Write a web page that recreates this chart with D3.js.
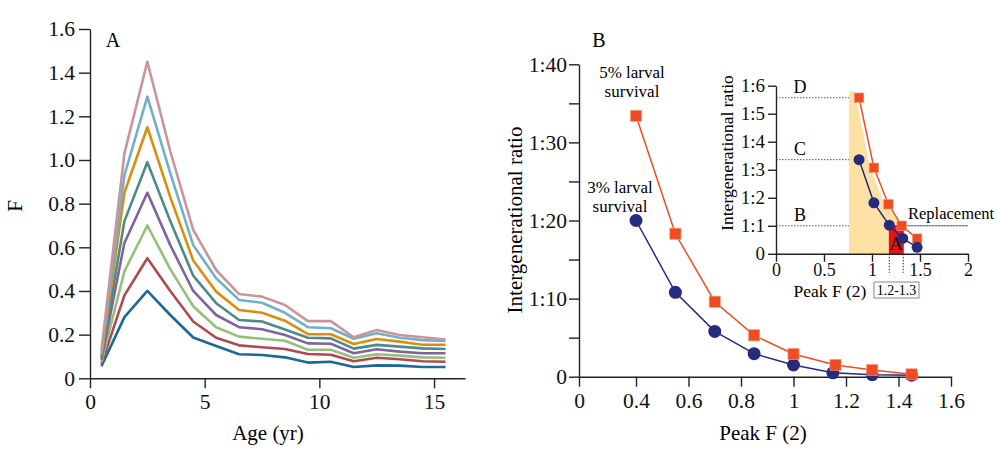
<!DOCTYPE html>
<html>
<head>
<meta charset="utf-8">
<script src="https://cdn.jsdelivr.net/npm/d3@7"></script>
<style>
    body { margin: 0; background: #fff; }
    svg { display: block; font-family: "Liberation Serif", "DejaVu Serif", serif; }
    .axis path, .axis line { stroke: #222; stroke-width: 1.4; }
    .axis text { font-family: "Liberation Serif", serif; fill: #111; }
</style>
</head>
<body>
<div class="graphContainer"></div>
<script>
// Panel A: fecundity by age, one line per peak F
const ages = [0.5, 1.5, 2.5, 3.5, 4.5, 5.5, 6.5, 7.5, 8.5, 9.5, 10.5, 11.5, 12.5, 13.5, 14.5, 15.5];
const fBlue = [0.055, 0.28, 0.40, 0.29, 0.187, 0.148, 0.110, 0.107, 0.096, 0.072, 0.076, 0.052, 0.059, 0.058, 0.052, 0.052];
const fRed = [0.065, 0.38, 0.55, 0.40, 0.26, 0.186, 0.151, 0.142, 0.134, 0.111, 0.108, 0.078, 0.094, 0.087, 0.078, 0.076];
const fGreen = [0.075, 0.49, 0.70, 0.50, 0.33, 0.234, 0.191, 0.181, 0.172, 0.131, 0.131, 0.094, 0.110, 0.104, 0.096, 0.094];
const fPurple = [0.085, 0.62, 0.85, 0.61, 0.40, 0.29, 0.234, 0.225, 0.198, 0.160, 0.158, 0.115, 0.133, 0.122, 0.115, 0.115];
const fTeal = [0.095, 0.72, 0.99, 0.72, 0.47, 0.344, 0.267, 0.26, 0.224, 0.186, 0.183, 0.136, 0.153, 0.145, 0.137, 0.134];
const fOrange = [0.105, 0.85, 1.15, 0.83, 0.54, 0.397, 0.313, 0.30, 0.264, 0.202, 0.202, 0.157, 0.180, 0.168, 0.154, 0.154];
const fLightBlue = [0.115, 0.93, 1.29, 0.94, 0.61, 0.458, 0.359, 0.346, 0.30, 0.234, 0.229, 0.181, 0.206, 0.186, 0.175, 0.171];
const fPink = [0.13, 1.03, 1.45, 1.04, 0.68, 0.496, 0.386, 0.374, 0.336, 0.262, 0.262, 0.188, 0.221, 0.198, 0.188, 0.178];
const ageTicks = [0, 5, 10, 15];
const fTicks = [0, 0.2, 0.4, 0.6, 0.8, 1.0, 1.2, 1.4, 1.6];

// Panel B: intergenerational ratio vs peak F
const peakF3 = [0.4, 0.55, 0.7, 0.85, 1.0, 1.15, 1.3, 1.45];
const ratio3 = [20, 10.8, 5.8, 2.95, 1.5, 0.5, 0.26, 0.2];
const peakF5 = [0.4, 0.55, 0.7, 0.85, 1.0, 1.16, 1.3, 1.45];
const ratio5 = [33.4, 18.3, 9.6, 5.3, 2.9, 1.5, 0.86, 0.3];
const peakTicks = [0, 0.4, 0.6, 0.8, 1, 1.2, 1.4, 1.6];
const ratioTicks = [0, 5, 10, 15, 20, 25, 30, 35, 40];

// Inset
const insetF3 = [0.865, 1.02, 1.18, 1.32, 1.47];
const insetR3 = [3.36, 1.82, 1.02, 0.55, 0.23];
const insetF5 = [0.865, 1.02, 1.17, 1.31, 1.47];
const insetR5 = [5.57, 3.07, 1.77, 1.0, 0.54];
const insetXTicks = [0, 0.5, 1, 1.5, 2];
const insetYTicks = [0, 1, 2, 3, 4, 5, 6];
const shadeX = [0.76, 0.76, 0.82, 0.98, 1.13, 1.325, 1.325];
const shadeY = [0, 5.8, 5.8, 3.07, 1.77, 1.0, 0];
const replacementRange = [1.18, 1.325];
const replacementRatio = 1.0;
const levelLabels = ["D", "C", "B"];
const levelValues = [5.57, 3.36, 1.0];

const svg = d3.select(".graphContainer")
    .append("svg")
    .attr("width", 998)
    .attr("height", 459);

// ---------- Panel A ----------
const xA = d3.scaleLinear().domain([0, 16.35]).range([90, 465]);
const yA = d3.scaleLinear().domain([0, 1.6]).range([378.3, 29]);

svg.append("g")
    .attr("class", "axis")
    .attr("transform", "translate(0," + yA(0) + ")")
    .call(d3.axisBottom(xA).tickValues(ageTicks).tickSize(10).tickSizeOuter(0).tickPadding(5))
    .selectAll("text").style("font-size", "21.5px");

svg.append("g")
    .attr("class", "axis")
    .attr("transform", "translate(" + xA(0) + ",0)")
    .call(d3.axisLeft(yA).tickValues(fTicks).tickSize(11).tickSizeOuter(0).tickPadding(4)
        .tickFormat(d => d === 0 ? "0" : d.toFixed(1)))
    .selectAll("text").style("font-size", "21.5px");

const seriesA = [
    { values: fBlue, color: "#1c6896" },
    { values: fRed, color: "#b04a50" },
    { values: fGreen, color: "#95c07c" },
    { values: fPurple, color: "#7d65a0" },
    { values: fTeal, color: "#4e8a86" },
    { values: fOrange, color: "#d98e10" },
    { values: fLightBlue, color: "#72b0c9" },
    { values: fPink, color: "#c9949b" }
];

const lineA = d3.line()
    .x((d, i) => xA(ages[i]))
    .y(d => yA(d));

svg.append("g")
    .selectAll("path")
    .data(seriesA)
    .join("path")
    .attr("fill", "none")
    .attr("stroke", d => d.color)
    .attr("stroke-width", 2.6)
    .attr("stroke-linejoin", "round")
    .attr("d", d => lineA(d.values));

svg.append("text").attr("x", 113).attr("y", 47).attr("text-anchor", "middle")
    .style("font-size", "20px").text("A");
svg.append("text").attr("x", 268).attr("y", 440).attr("text-anchor", "middle")
    .style("font-size", "21px").text("Age (yr)");
svg.append("text").attr("transform", "translate(22,206) rotate(-90)").attr("text-anchor", "middle")
    .style("font-size", "21px").text("F");

// ---------- Panel B ----------
const xB = d3.scaleLinear().domain([0, 0.4, 1.6]).range([579, 636, 951]);
const yB = d3.scaleLinear().domain([0, 40]).range([376.7, 64.3]);

svg.append("g")
    .attr("class", "axis")
    .attr("transform", "translate(0," + yB(0) + ")")
    .call(d3.axisBottom(xB).tickValues(peakTicks).tickSize(10).tickSizeOuter(0).tickPadding(6)
        .tickFormat(d => (d === 0 || d === 1) ? String(d) : d.toFixed(1)))
    .selectAll("text").style("font-size", "21.5px");

svg.append("g")
    .attr("class", "axis")
    .attr("transform", "translate(" + xB(0) + ",0)")
    .call(d3.axisLeft(yB).tickValues(ratioTicks).tickSize(10).tickSizeOuter(0).tickPadding(2)
        .tickFormat(d => d === 0 ? "0" : (d % 10 === 0 ? "1:" + d : "")))
    .selectAll("text").style("font-size", "21.5px");

const navy = "#262b7c";
const red = "#ef4c23";

function drawSeries(g, xs, ys, xScale, yScale, color, shape, size) {
    const pts = xs.map((x, i) => ({ x: x, y: ys[i] }));
    g.append("path")
        .datum(pts)
        .attr("fill", "none")
        .attr("stroke", color)
        .attr("stroke-width", 1.5)
        .attr("d", d3.line().x(d => xScale(d.x)).y(d => yScale(d.y)));
    if (shape === "circle") {
        g.selectAll(null)
            .data(pts)
            .join("circle")
            .attr("cx", d => xScale(d.x))
            .attr("cy", d => yScale(d.y))
            .attr("r", size)
            .attr("fill", color);
    } else {
        g.selectAll(null)
            .data(pts)
            .join("rect")
            .attr("x", d => xScale(d.x) - size)
            .attr("y", d => yScale(d.y) - size)
            .attr("width", size * 2)
            .attr("height", size * 2)
            .attr("fill", color)
            .attr("stroke", "#f6a080")
            .attr("stroke-width", 0.6);
    }
}

const gB = svg.append("g");
drawSeries(gB, peakF3, ratio3, xB, yB, navy, "circle", 6.5);
drawSeries(gB, peakF5, ratio5, xB, yB, red, "square", 5.6);

svg.append("text").attr("x", 599).attr("y", 47).attr("text-anchor", "middle")
    .style("font-size", "20px").text("B");
svg.append("text").attr("x", 763).attr("y", 440).attr("text-anchor", "middle")
    .style("font-size", "21px").text("Peak F (2)");
svg.append("text").attr("transform", "translate(522,220) rotate(-90)").attr("text-anchor", "middle")
    .style("font-size", "21px").text("Intergenerational ratio");

const note5 = svg.append("text").attr("text-anchor", "middle").style("font-size", "17px");
note5.append("tspan").attr("x", 632).attr("y", 78).text("5% larval");
note5.append("tspan").attr("x", 632).attr("y", 97).text("survival");
const note3 = svg.append("text").attr("text-anchor", "middle").style("font-size", "17px");
note3.append("tspan").attr("x", 620).attr("y", 193).text("3% larval");
note3.append("tspan").attr("x", 620).attr("y", 212).text("survival");

// ---------- Inset ----------
const xI = d3.scaleLinear().domain([0, 2]).range([776, 968]);
const yI = d3.scaleLinear().domain([0, 6]).range([253.8, 85.7]);
const gI = svg.append("g");

// dotted reference levels (drawn first, the shading covers them)
levelValues.forEach((v, i) => {
    const xEnd = i === 2 ? xI(2) : xI(insetF3[0]);
    gI.append("line")
        .attr("x1", xI(0)).attr("x2", xEnd)
        .attr("y1", yI(v)).attr("y2", yI(v))
        .attr("stroke", "#444").attr("stroke-width", 0.9)
        .attr("stroke-dasharray", "1.5,1.5");
    gI.append("text")
        .attr("x", 800).attr("y", yI(v) - 5)
        .attr("text-anchor", "middle")
        .style("font-size", "18px")
        .text(levelLabels[i]);
});

gI.append("path")
    .datum(shadeX.map((x, i) => [x, shadeY[i]]))
    .attr("fill", "#fde1a4")
    .attr("d", d3.line().x(d => xI(d[0])).y(d => yI(d[1])));

gI.append("rect")
    .attr("x", xI(replacementRange[0]))
    .attr("y", yI(replacementRatio))
    .attr("width", xI(replacementRange[1]) - xI(replacementRange[0]))
    .attr("height", yI(0) - yI(replacementRatio))
    .attr("fill", "#e5121c")
    .attr("stroke", "#a0101a")
    .attr("stroke-width", 0.8);

gI.append("text")
    .attr("x", (xI(replacementRange[0]) + xI(replacementRange[1])) / 2)
    .attr("y", yI(0) - 4)
    .attr("text-anchor", "middle")
    .style("font-size", "19px")
    .text("A");

// replacement line right of the shading
gI.append("line")
    .attr("x1", xI(replacementRange[1])).attr("x2", xI(2))
    .attr("y1", yI(replacementRatio)).attr("y2", yI(replacementRatio))
    .attr("stroke", "#444").attr("stroke-width", 0.9)
    .attr("stroke-dasharray", "1.5,1.5");

gI.append("text")
    .attr("x", 908).attr("y", yI(replacementRatio) - 7)
    .style("font-size", "16.5px")
    .text("Replacement");

// dotted markers for the 1.2-1.3 window
replacementRange.forEach(v => {
    gI.append("line")
        .attr("x1", xI(v)).attr("x2", xI(v))
        .attr("y1", yI(0)).attr("y2", yI(0) + 19)
        .attr("stroke", "#222").attr("stroke-width", 1)
        .attr("stroke-dasharray", "1.5,1.5");
});

gI.append("g")
    .attr("class", "axis")
    .attr("transform", "translate(0," + yI(0) + ")")
    .call(d3.axisBottom(xI).tickValues(insetXTicks).tickSize(8).tickSizeOuter(0).tickPadding(1)
        .tickFormat(d => String(d)))
    .selectAll("text").style("font-size", "18px");

gI.append("g")
    .attr("class", "axis")
    .attr("transform", "translate(" + xI(0) + ",0)")
    .call(d3.axisLeft(yI).tickValues(insetYTicks).tickSize(8).tickSizeOuter(0).tickPadding(3)
        .tickFormat(d => d === 0 ? "0" : "1:" + d))
    .selectAll("text").style("font-size", "19px");

drawSeries(gI, insetF5, insetR5, xI, yI, red, "square", 4.8);
drawSeries(gI, insetF3, insetR3, xI, yI, navy, "circle", 5.5);

gI.append("text").attr("x", 830).attr("y", 297).attr("text-anchor", "middle")
    .style("font-size", "17.5px").text("Peak F (2)");
gI.append("text").attr("transform", "translate(733,153) rotate(-90)").attr("text-anchor", "middle")
    .style("font-size", "17.5px").text("Intergenerational ratio");

gI.append("rect")
    .attr("x", 874).attr("y", 282)
    .attr("width", 45).attr("height", 16)
    .attr("fill", "#fff").attr("stroke", "#888").attr("stroke-width", 1);
gI.append("text").attr("x", 896.5).attr("y", 295).attr("text-anchor", "middle")
    .style("font-size", "14px").text("1.2-1.3");
</script>
</body>
</html>
